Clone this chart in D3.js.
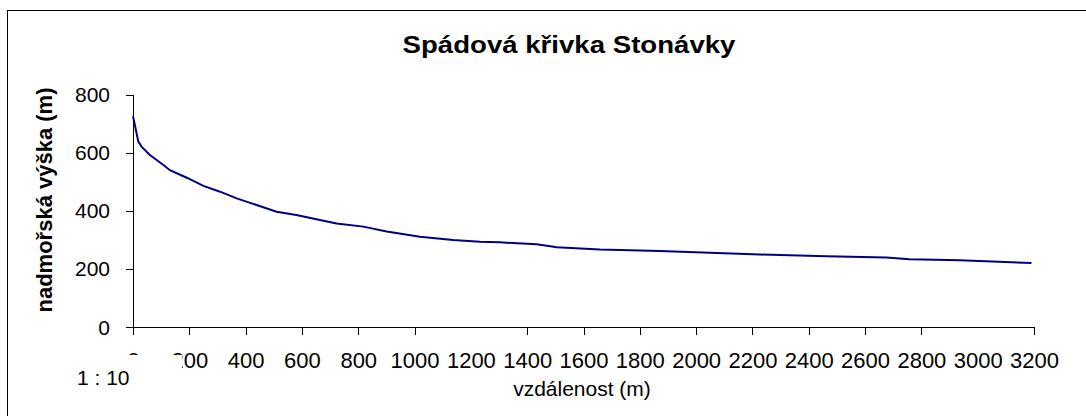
<!DOCTYPE html>
<html>
<head>
<meta charset="utf-8">
<script src="https://cdn.jsdelivr.net/npm/d3@7"></script>
<style>
  body { margin: 0; background: #fff; }
  svg { display: block; font-family: "Liberation Sans", Arial, sans-serif; }
  .axis path, .axis line { stroke: #000; shape-rendering: crispEdges; }
  .axis text { fill: #000; }
</style>
</head>
<body>
<div class="chart"></div>
<script>
// values
const distance = [0, 19, 31, 60, 108, 131, 191, 250, 309, 368, 427, 510, 580, 664, 723, 818, 901,
    1019, 1137, 1232, 1303, 1434, 1505, 1658, 1871, 2049, 2227, 2463, 2676, 2758, 2937, 3191];
const elevation = [725, 638, 620, 592, 558, 540, 514, 486, 466, 443, 424, 397, 386, 369, 357, 346, 329,
    311, 300, 294, 292, 285, 275, 267, 262, 256, 250, 244, 240, 234, 230, 221];

const xLabels = [0, 200, 400, 600, 800, 1000, 1200, 1400, 1600, 1800, 2000, 2200, 2400, 2600, 2800, 3000, 3200];
const xTickMarks = [0, 200, 400, 600, 800, 1000, 1400, 1600, 1800, 2000, 2200, 2400, 2600, 2800, 3200];
const yTicks = [0, 200, 400, 600, 800];

const d3 = window.d3;

let W = 1086, H = 416;
let margin = {top: 94.5, left: 133},
    width = 1034 - margin.left,
    height = 327.3 - margin.top;

let svg = d3.select(".chart").append("svg")
    .attr("width", W)
    .attr("height", H);

// outer frame (only left and top visible)
svg.append("rect")
    .attr("x", 7.5).attr("y", 10.5)
    .attr("width", 1200).attr("height", 600)
    .attr("fill", "none").attr("stroke", "#000");

let x = d3.scaleLinear().domain([0, 3200]).range([0, width]);
let y = d3.scaleLinear().domain([0, 800]).range([height, 0]);

let g = svg.append("g")
    .attr("transform", "translate(" + margin.left + "," + margin.top + ")");

// y axis
g.append("g")
    .attr("class", "axis")
    .call(d3.axisLeft(y).tickValues(yTicks).tickSize(7).tickSizeOuter(0).tickPadding(16))
    .call(a => a.selectAll("text").attr("font-size", 21));

// x axis: marks
g.append("g")
    .attr("class", "axis")
    .attr("transform", "translate(0," + height + ")")
    .call(d3.axisBottom(x).tickValues(xTickMarks).tickSize(8).tickSizeOuter(0).tickFormat(""))
    .call(a => a.select("path").attr("d", "M-7,0.5H" + width));

// x axis: labels
g.append("g")
    .attr("class", "axis")
    .attr("transform", "translate(0," + height + ")")
    .call(d3.axisBottom(x).tickValues(xLabels).tickSize(0).tickPadding(25).tickFormat(d3.format("d")))
    .call(a => a.select("path").remove())
    .call(a => a.selectAll("text").attr("font-size", 22));

// the curve
let line = d3.line()
    .x((d, i) => x(distance[i]))
    .y(d => y(d));

g.append("path")
    .datum(elevation)
    .attr("fill", "none")
    .attr("stroke", "#000080")
    .attr("stroke-width", 2)
    .attr("d", line);

// title
svg.append("text")
    .attr("transform", "translate(569,53) scale(1.15,1)")
    .attr("text-anchor", "middle")
    .attr("font-size", 24)
    .attr("font-weight", "bold")
    .text("Spádová křivka Stonávky");

// axis titles
svg.append("text")
    .attr("transform", "translate(52,200) rotate(-90)")
    .attr("text-anchor", "middle")
    .attr("font-size", 22)
    .attr("font-weight", "bold")
    .text("nadmořská výška (m)");

svg.append("text")
    .attr("x", 582).attr("y", 396)
    .attr("text-anchor", "middle")
    .attr("font-size", 21)
    .text("vzdálenost (m)");

// scale note in a white box
svg.append("rect")
    .attr("x", 60).attr("y", 355)
    .attr("width", 122).attr("height", 40)
    .attr("fill", "#fff");

svg.append("text")
    .attr("x", 77).attr("y", 385)
    .attr("font-size", 21)
    .text("1 : 10");
</script>
</body>
</html>
